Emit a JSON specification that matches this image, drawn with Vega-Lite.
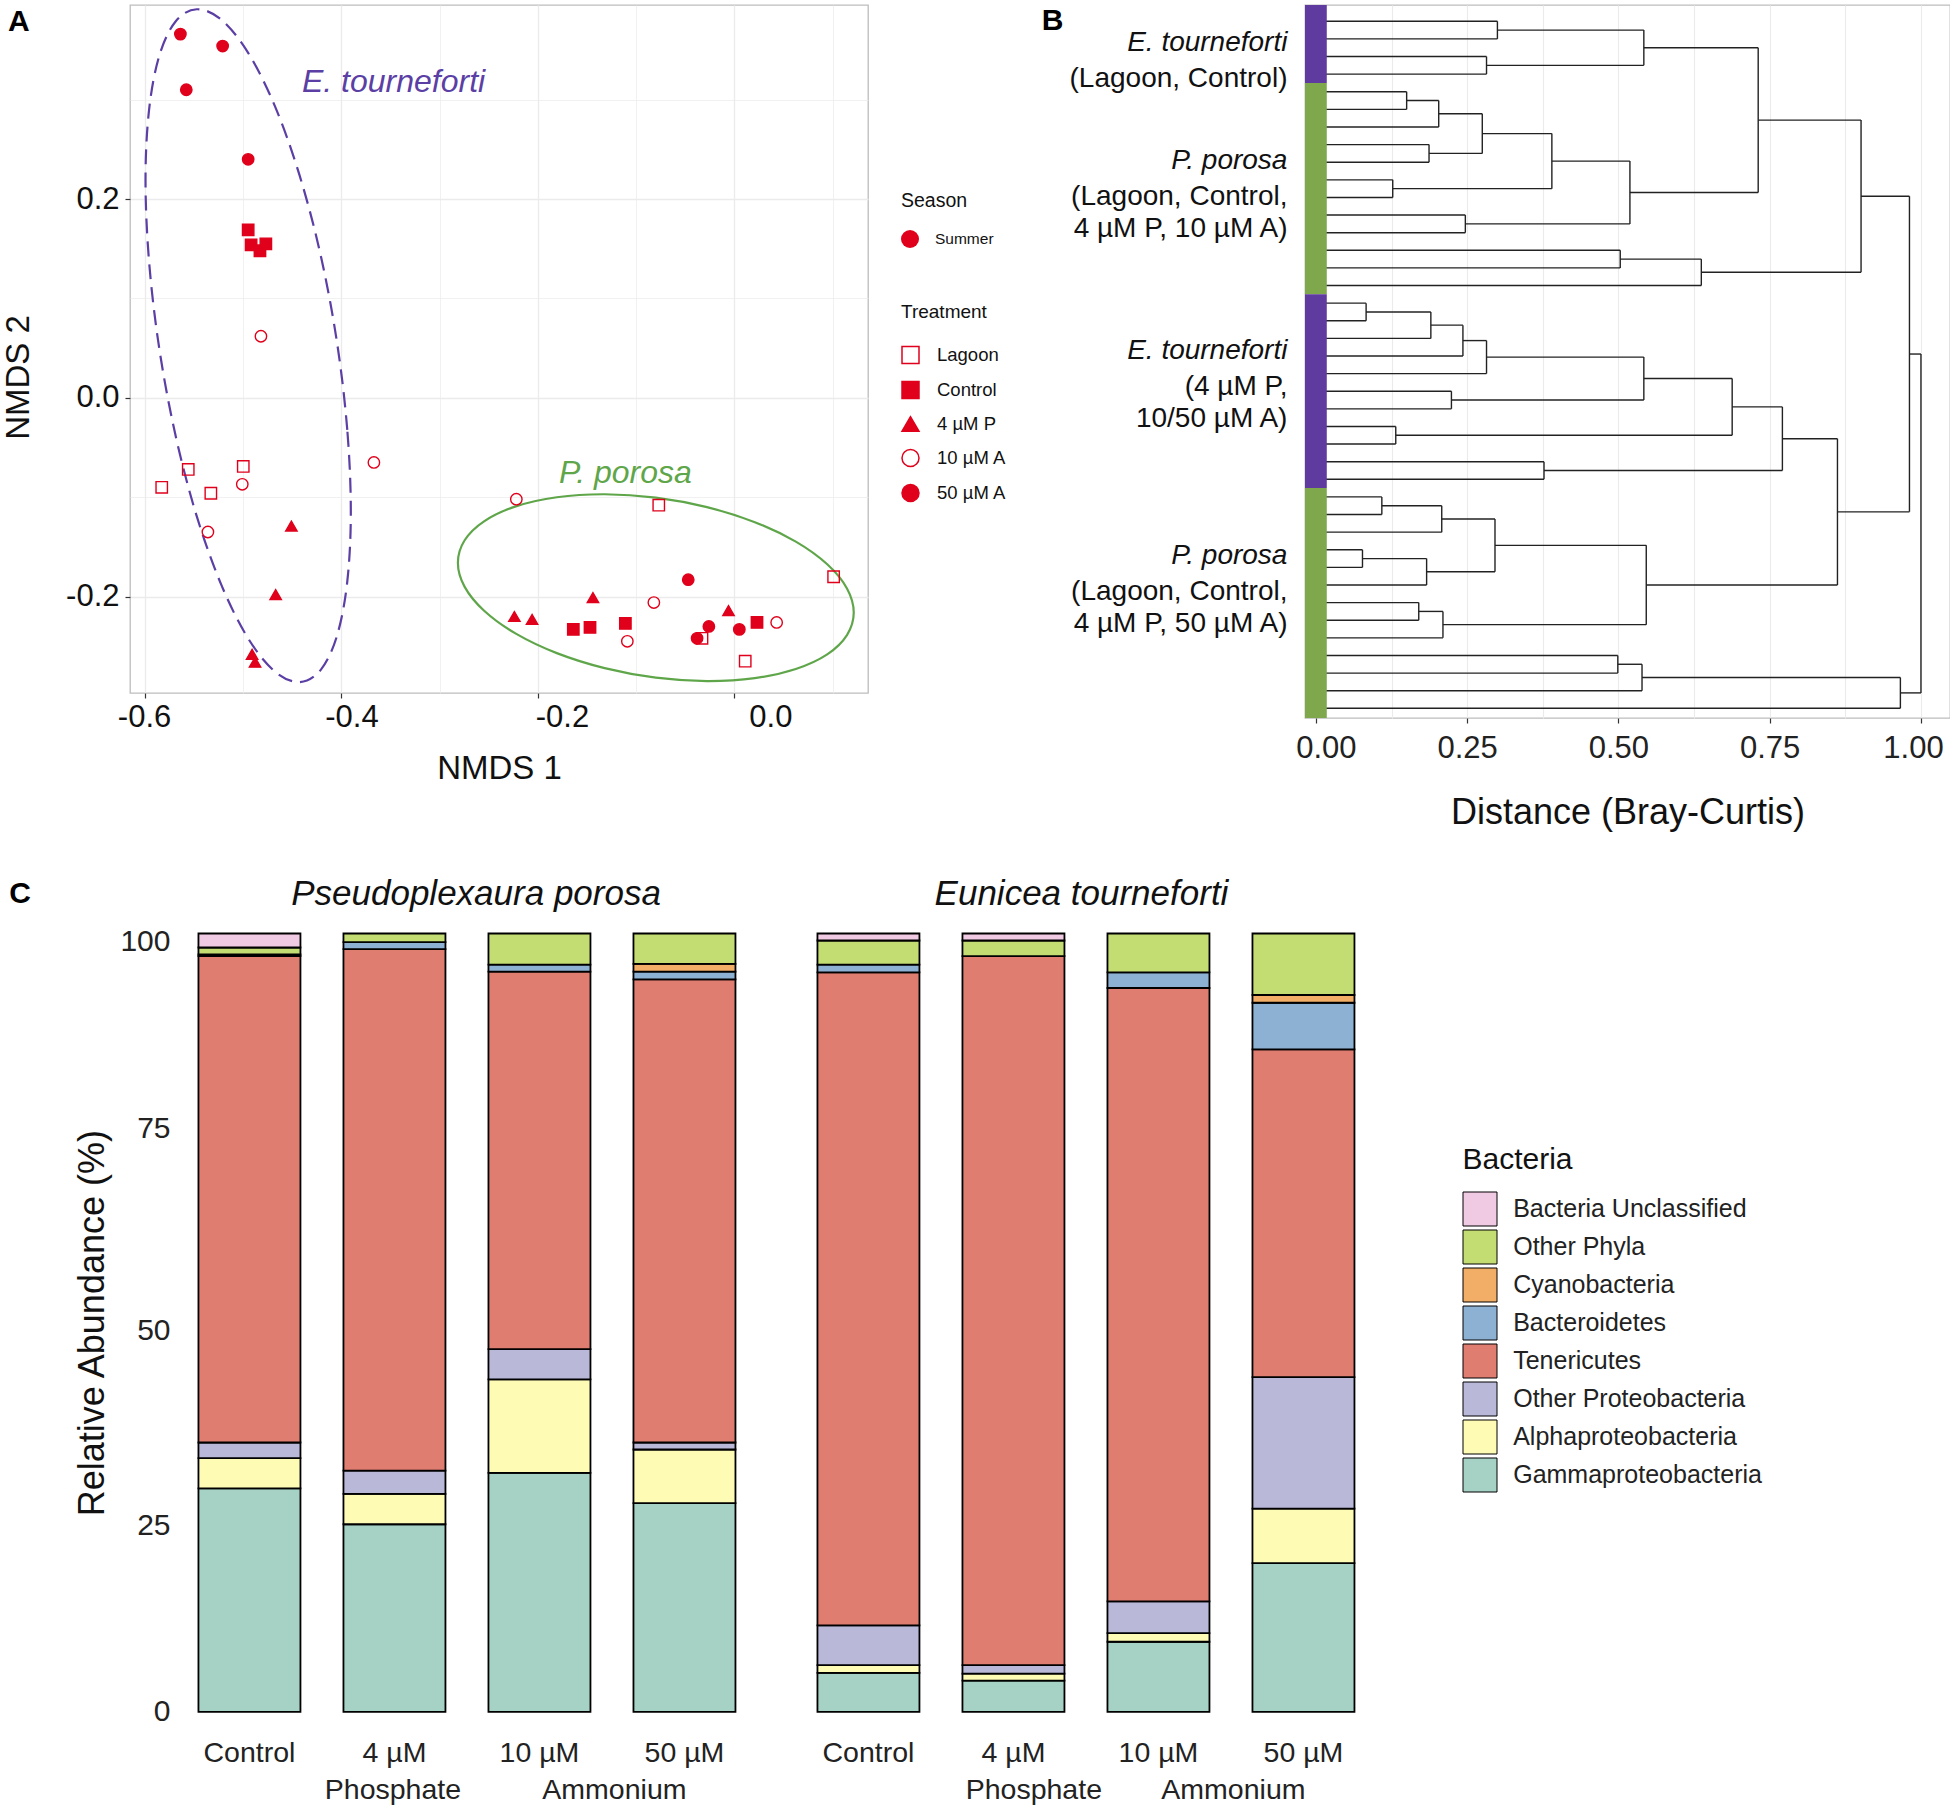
{
  "$schema": "https://vega.github.io/schema/vega-lite/v6.json",
  "background": "white",
  "padding": {"left": 2, "top": 4, "right": 0, "bottom": 0},
  "spacing": 44.5,
  "config": {
    "font": "Liberation Sans",
    "view": {"stroke": null},
    "axis": {"labelFont": "Liberation Sans", "titleFont": "Liberation Sans", "titleFontWeight": "normal", "labelFlush": false, "labelOverlap": false},
    "legend": {"labelFont": "Liberation Sans", "titleFont": "Liberation Sans", "titleFontWeight": "normal", "labelLimit": 400},
    "title": {"font": "Liberation Sans"}
  },
  "resolve": {
    "scale": {"color": "independent", "fill": "independent", "shape": "independent", "stroke": "independent"},
    "legend": {"color": "independent", "fill": "independent", "shape": "independent", "stroke": "independent"}
  },
  "vconcat": [
    {
      "bounds": "flush",
      "spacing": 437,
      "resolve": {
        "scale": {"color": "independent", "fill": "independent", "shape": "independent", "stroke": "independent"},
        "legend": {"color": "independent", "fill": "independent", "shape": "independent", "stroke": "independent"}
      },
      "hconcat": [
        {
          "width": 738,
          "height": 688,
          "view": {"stroke": "#BDBDBD", "strokeWidth": 1.3},
          "data": {"values": [
            {"Species": "E. tourneforti", "Treatment": "50 µM A", "Season": "Summer", "x": -0.564, "y": 0.366},
            {"Species": "E. tourneforti", "Treatment": "50 µM A", "Season": "Summer", "x": -0.521, "y": 0.354},
            {"Species": "E. tourneforti", "Treatment": "50 µM A", "Season": "Summer", "x": -0.558, "y": 0.310},
            {"Species": "E. tourneforti", "Treatment": "50 µM A", "Season": "Summer", "x": -0.495, "y": 0.240},
            {"Species": "E. tourneforti", "Treatment": "Control", "Season": "Summer", "x": -0.495, "y": 0.169},
            {"Species": "E. tourneforti", "Treatment": "Control", "Season": "Summer", "x": -0.492, "y": 0.154},
            {"Species": "E. tourneforti", "Treatment": "Control", "Season": "Summer", "x": -0.483, "y": 0.148},
            {"Species": "E. tourneforti", "Treatment": "Control", "Season": "Summer", "x": -0.477, "y": 0.155},
            {"Species": "E. tourneforti", "Treatment": "10 µM A", "Season": "Summer", "x": -0.482, "y": 0.062},
            {"Species": "E. tourneforti", "Treatment": "10 µM A", "Season": "Summer", "x": -0.367, "y": -0.065},
            {"Species": "E. tourneforti", "Treatment": "10 µM A", "Season": "Summer", "x": -0.501, "y": -0.087},
            {"Species": "E. tourneforti", "Treatment": "10 µM A", "Season": "Summer", "x": -0.536, "y": -0.135},
            {"Species": "E. tourneforti", "Treatment": "Lagoon", "Season": "Summer", "x": -0.583, "y": -0.090},
            {"Species": "E. tourneforti", "Treatment": "Lagoon", "Season": "Summer", "x": -0.556, "y": -0.072},
            {"Species": "E. tourneforti", "Treatment": "Lagoon", "Season": "Summer", "x": -0.533, "y": -0.096},
            {"Species": "E. tourneforti", "Treatment": "Lagoon", "Season": "Summer", "x": -0.500, "y": -0.069},
            {"Species": "E. tourneforti", "Treatment": "4 µM P", "Season": "Summer", "x": -0.451, "y": -0.129},
            {"Species": "E. tourneforti", "Treatment": "4 µM P", "Season": "Summer", "x": -0.467, "y": -0.198},
            {"Species": "E. tourneforti", "Treatment": "4 µM P", "Season": "Summer", "x": -0.491, "y": -0.258},
            {"Species": "E. tourneforti", "Treatment": "4 µM P", "Season": "Summer", "x": -0.488, "y": -0.266},
            {"Species": "P. porosa", "Treatment": "10 µM A", "Season": "Summer", "x": -0.222, "y": -0.102},
            {"Species": "P. porosa", "Treatment": "10 µM A", "Season": "Summer", "x": -0.082, "y": -0.206},
            {"Species": "P. porosa", "Treatment": "10 µM A", "Season": "Summer", "x": -0.109, "y": -0.245},
            {"Species": "P. porosa", "Treatment": "10 µM A", "Season": "Summer", "x": 0.043, "y": -0.226},
            {"Species": "P. porosa", "Treatment": "50 µM A", "Season": "Summer", "x": -0.047, "y": -0.183},
            {"Species": "P. porosa", "Treatment": "50 µM A", "Season": "Summer", "x": -0.026, "y": -0.230},
            {"Species": "P. porosa", "Treatment": "50 µM A", "Season": "Summer", "x": 0.005, "y": -0.233},
            {"Species": "P. porosa", "Treatment": "50 µM A", "Season": "Summer", "x": -0.038, "y": -0.242},
            {"Species": "P. porosa", "Treatment": "Lagoon", "Season": "Summer", "x": -0.077, "y": -0.108},
            {"Species": "P. porosa", "Treatment": "Lagoon", "Season": "Summer", "x": 0.101, "y": -0.180},
            {"Species": "P. porosa", "Treatment": "Lagoon", "Season": "Summer", "x": -0.033, "y": -0.242},
            {"Species": "P. porosa", "Treatment": "Lagoon", "Season": "Summer", "x": 0.011, "y": -0.265},
            {"Species": "P. porosa", "Treatment": "4 µM P", "Season": "Summer", "x": -0.144, "y": -0.201},
            {"Species": "P. porosa", "Treatment": "4 µM P", "Season": "Summer", "x": -0.224, "y": -0.220},
            {"Species": "P. porosa", "Treatment": "4 µM P", "Season": "Summer", "x": -0.206, "y": -0.223},
            {"Species": "P. porosa", "Treatment": "4 µM P", "Season": "Summer", "x": -0.006, "y": -0.214},
            {"Species": "P. porosa", "Treatment": "Control", "Season": "Summer", "x": -0.164, "y": -0.233},
            {"Species": "P. porosa", "Treatment": "Control", "Season": "Summer", "x": -0.147, "y": -0.231},
            {"Species": "P. porosa", "Treatment": "Control", "Season": "Summer", "x": -0.111, "y": -0.227},
            {"Species": "P. porosa", "Treatment": "Control", "Season": "Summer", "x": 0.023, "y": -0.226}
          ]},
          "encoding": {
            "x": {
              "field": "x", "type": "quantitative",
              "scale": {"domain": [-0.6153, 0.136], "nice": false, "zero": false},
              "axis": {
                "values": [-0.6, -0.5, -0.4, -0.3, -0.2, -0.1, 0, 0.1],
                "labelExpr": "abs(round(datum.value*10)) % 2 == 1 ? '' : (datum.value < -0.001 ? '-' + format(-datum.value, '.1f') : format(abs(datum.value), '.1f'))",
                "title": "NMDS 1", "titleFontSize": 33, "titleColor": "#111111", "titlePadding": 20,
                "labelFontSize": 31, "labelColor": "#111111", "labelPadding": 4,
                "labelOffset": {"condition": [
                  {"test": "datum.value > -0.05 && datum.value < 0.05", "value": 36},
                  {"test": "datum.value > -0.25 && datum.value < -0.15", "value": 24},
                  {"test": "datum.value > -0.45 && datum.value < -0.35", "value": 10}
                ], "value": -1},
                "domain": false,
                "tickSize": 5, "tickColor": "#333333", "tickWidth": 1.2,
                "tickOpacity": {"condition": {"test": "abs(round(datum.value*10)) % 2 == 1", "value": 0}, "value": 1},
                "grid": true, "gridColor": "#EBEBEB",
                "gridWidth": {"condition": {"test": "abs(round(datum.value*10)) % 2 == 1", "value": 0.7}, "value": 1.3}
              }
            },
            "y": {
              "field": "y", "type": "quantitative",
              "scale": {"domain": [-0.297, 0.3953], "nice": false, "zero": false},
              "axis": {
                "values": [-0.2, -0.1, 0, 0.1, 0.2, 0.3],
                "labelExpr": "abs(round(datum.value*10)) % 2 == 1 ? '' : (datum.value < -0.001 ? '-' + format(-datum.value, '.1f') : format(abs(datum.value), '.1f'))",
                "title": "NMDS 2", "titleFontSize": 33, "titleColor": "#111111", "titlePadding": 29.7, "titleY": 372,
                "labelFontSize": 31, "labelColor": "#111111", "labelPadding": 6,
                "domain": false,
                "tickSize": 5, "tickColor": "#333333", "tickWidth": 1.2,
                "tickOpacity": {"condition": {"test": "abs(round(datum.value*10)) % 2 == 1", "value": 0}, "value": 1},
                "grid": true, "gridColor": "#EBEBEB",
                "gridWidth": {"condition": {"test": "abs(round(datum.value*10)) % 2 == 1", "value": 0.7}, "value": 1.3}
              }
            }
          },
          "layer": [
            {
              "data": {"values": [
                {"t": 0, "x": -0.3905, "y": -0.1142}, {"t": 1, "x": -0.3941, "y": -0.0323},
                {"t": 2, "x": -0.4045, "y": 0.0554}, {"t": 3, "x": -0.4211, "y": 0.1430},
                {"t": 4, "x": -0.4428, "y": 0.2243}, {"t": 5, "x": -0.4680, "y": 0.2940},
                {"t": 6, "x": -0.4950, "y": 0.3471}, {"t": 7, "x": -0.5220, "y": 0.3802},
                {"t": 8, "x": -0.5473, "y": 0.3910}, {"t": 9, "x": -0.5689, "y": 0.3787},
                {"t": 10, "x": -0.5855, "y": 0.3442}, {"t": 11, "x": -0.5959, "y": 0.2898},
                {"t": 12, "x": -0.5995, "y": 0.2192}, {"t": 13, "x": -0.5959, "y": 0.1373},
                {"t": 14, "x": -0.5855, "y": 0.0496}, {"t": 15, "x": -0.5689, "y": -0.0380},
                {"t": 16, "x": -0.5473, "y": -0.1193}, {"t": 17, "x": -0.5220, "y": -0.1890},
                {"t": 18, "x": -0.4950, "y": -0.2421}, {"t": 19, "x": -0.4680, "y": -0.2752},
                {"t": 20, "x": -0.4428, "y": -0.2860}, {"t": 21, "x": -0.4211, "y": -0.2737},
                {"t": 22, "x": -0.4045, "y": -0.2392}, {"t": 23, "x": -0.3941, "y": -0.1848}
              ]},
              "mark": {"type": "line", "interpolate": "cardinal-closed", "color": "#5B3FA5", "strokeWidth": 2.2, "strokeDash": [15, 8]},
              "encoding": {"order": {"field": "t", "type": "quantitative"}}
            },
            {
              "data": {"values": [
                {"t": 0, "x": 0.1215, "y": -0.2161}, {"t": 1, "x": 0.1146, "y": -0.1918},
                {"t": 2, "x": 0.0945, "y": -0.1675}, {"t": 3, "x": 0.0625, "y": -0.1447},
                {"t": 4, "x": 0.0208, "y": -0.1251}, {"t": 5, "x": -0.0279, "y": -0.1100},
                {"t": 6, "x": -0.0800, "y": -0.1004}, {"t": 7, "x": -0.1321, "y": -0.0970},
                {"t": 8, "x": -0.1808, "y": -0.1000}, {"t": 9, "x": -0.2225, "y": -0.1092},
                {"t": 10, "x": -0.2545, "y": -0.1240}, {"t": 11, "x": -0.2746, "y": -0.1433},
                {"t": 12, "x": -0.2815, "y": -0.1659}, {"t": 13, "x": -0.2746, "y": -0.1902},
                {"t": 14, "x": -0.2545, "y": -0.2145}, {"t": 15, "x": -0.2225, "y": -0.2373},
                {"t": 16, "x": -0.1808, "y": -0.2569}, {"t": 17, "x": -0.1321, "y": -0.2720},
                {"t": 18, "x": -0.0800, "y": -0.2816}, {"t": 19, "x": -0.0279, "y": -0.2850},
                {"t": 20, "x": 0.0208, "y": -0.2820}, {"t": 21, "x": 0.0625, "y": -0.2728},
                {"t": 22, "x": 0.0945, "y": -0.2581}, {"t": 23, "x": 0.1146, "y": -0.2387}
              ]},
              "mark": {"type": "line", "interpolate": "cardinal-closed", "color": "#5FA64A", "strokeWidth": 2.2},
              "encoding": {"order": {"field": "t", "type": "quantitative"}}
            },
            {
              "data": {"values": [{"label": "E. tourneforti", "x": -0.347, "y": 0.318}]},
              "mark": {"type": "text", "fontSize": 32, "fontStyle": "italic", "color": "#5B3FA5", "align": "center", "baseline": "middle"},
              "encoding": {"text": {"field": "label"}}
            },
            {
              "data": {"values": [{"label": "P. porosa", "x": -0.111, "y": -0.0755}]},
              "mark": {"type": "text", "fontSize": 32, "fontStyle": "italic", "color": "#5FA64A", "align": "center", "baseline": "middle"},
              "encoding": {"text": {"field": "label"}}
            },
            {
              "mark": {"type": "point", "filled": true, "size": 0},
              "encoding": {
                "color": {
                  "field": "Season", "type": "nominal",
                  "scale": {"domain": ["Summer"], "range": ["#E0001B"]},
                  "legend": {"title": "Season", "orient": "none", "legendX": 771, "legendY": 187, "padding": 0,
                    "titleFontSize": 19.5, "titleColor": "#111111", "titlePadding": 18.5,
                    "labelFontSize": 15.5, "labelColor": "#111111", "labelOffset": 16,
                    "symbolType": "circle", "symbolSize": 324, "symbolStrokeWidth": 0, "symbolOpacity": 1}
                }
              }
            },
            {
              "mark": {"type": "point", "filled": true, "size": 130, "strokeWidth": 1.4, "opacity": 1},
              "encoding": {
                "shape": {
                  "field": "Treatment", "type": "nominal",
                  "scale": {"domain": ["Lagoon", "Control", "4 µM P", "10 µM A", "50 µM A"], "range": ["square", "square", "triangle-up", "circle", "circle"]},
                  "legend": {"title": "Treatment", "orient": "none", "legendX": 771, "legendY": 297.5, "padding": 0,
                    "titleFontSize": 19, "titleColor": "#111111", "titlePadding": 24,
                    "labelFontSize": 18.5, "labelColor": "#111111", "labelOffset": 17, "rowPadding": 12,
                    "symbolSize": 289, "symbolStrokeWidth": 1.5}
                },
                "fill": {
                  "field": "Treatment", "type": "nominal",
                  "scale": {"domain": ["Lagoon", "Control", "4 µM P", "10 µM A", "50 µM A"], "range": ["transparent", "#E0001B", "#E0001B", "transparent", "#E0001B"]},
                  "legend": {"title": "Treatment", "orient": "none", "legendX": 771, "legendY": 297.5, "padding": 0,
                    "titleFontSize": 19, "titleColor": "#111111", "titlePadding": 24,
                    "labelFontSize": 18.5, "labelColor": "#111111", "labelOffset": 17, "rowPadding": 12,
                    "symbolSize": 289, "symbolStrokeWidth": 1.5}
                },
                "stroke": {
                  "field": "Treatment", "type": "nominal",
                  "scale": {"domain": ["Lagoon", "Control", "4 µM P", "10 µM A", "50 µM A"], "range": ["#E0001B", "#E0001B", "#E0001B", "#E0001B", "#E0001B"]},
                  "legend": {"title": "Treatment", "orient": "none", "legendX": 771, "legendY": 297.5, "padding": 0,
                    "titleFontSize": 19, "titleColor": "#111111", "titlePadding": 24,
                    "labelFontSize": 18.5, "labelColor": "#111111", "labelOffset": 17, "rowPadding": 12,
                    "symbolSize": 289, "symbolStrokeWidth": 1.5}
                }
              }
            }
          ]
        },
        {
          "width": 645,
          "height": 713,
          "view": {"stroke": "#BDBDBD", "strokeWidth": 1.3},
          "layer": [
            {
              "data": {"values": [
                {"d1": 0, "d2": 0.300, "p1": 1, "p2": 1}, {"d1": 0, "d2": 0.300, "p1": 2, "p2": 2}, {"d1": 0.300, "d2": 0.300, "p1": 1, "p2": 2},
                {"d1": 0, "d2": 0.282, "p1": 3, "p2": 3}, {"d1": 0, "d2": 0.282, "p1": 4, "p2": 4}, {"d1": 0.282, "d2": 0.282, "p1": 3, "p2": 4},
                {"d1": 0.300, "d2": 0.542, "p1": 1.5, "p2": 1.5}, {"d1": 0.282, "d2": 0.542, "p1": 3.5, "p2": 3.5}, {"d1": 0.542, "d2": 0.542, "p1": 1.5, "p2": 3.5},
                {"d1": 0, "d2": 0.150, "p1": 5, "p2": 5}, {"d1": 0, "d2": 0.150, "p1": 6, "p2": 6}, {"d1": 0.150, "d2": 0.150, "p1": 5, "p2": 6},
                {"d1": 0.150, "d2": 0.203, "p1": 5.5, "p2": 5.5}, {"d1": 0, "d2": 0.203, "p1": 7, "p2": 7}, {"d1": 0.203, "d2": 0.203, "p1": 5.5, "p2": 7},
                {"d1": 0, "d2": 0.187, "p1": 8, "p2": 8}, {"d1": 0, "d2": 0.187, "p1": 9, "p2": 9}, {"d1": 0.187, "d2": 0.187, "p1": 8, "p2": 9},
                {"d1": 0.203, "d2": 0.275, "p1": 6.25, "p2": 6.25}, {"d1": 0.187, "d2": 0.275, "p1": 8.5, "p2": 8.5}, {"d1": 0.275, "d2": 0.275, "p1": 6.25, "p2": 8.5},
                {"d1": 0, "d2": 0.127, "p1": 10, "p2": 10}, {"d1": 0, "d2": 0.127, "p1": 11, "p2": 11}, {"d1": 0.127, "d2": 0.127, "p1": 10, "p2": 11},
                {"d1": 0.275, "d2": 0.390, "p1": 7.375, "p2": 7.375}, {"d1": 0.127, "d2": 0.390, "p1": 10.5, "p2": 10.5}, {"d1": 0.390, "d2": 0.390, "p1": 7.375, "p2": 10.5},
                {"d1": 0, "d2": 0.247, "p1": 12, "p2": 12}, {"d1": 0, "d2": 0.247, "p1": 13, "p2": 13}, {"d1": 0.247, "d2": 0.247, "p1": 12, "p2": 13},
                {"d1": 0.390, "d2": 0.519, "p1": 8.9375, "p2": 8.9375}, {"d1": 0.247, "d2": 0.519, "p1": 12.5, "p2": 12.5}, {"d1": 0.519, "d2": 0.519, "p1": 8.9375, "p2": 12.5},
                {"d1": 0.542, "d2": 0.731, "p1": 2.5, "p2": 2.5}, {"d1": 0.519, "d2": 0.731, "p1": 10.719, "p2": 10.719}, {"d1": 0.731, "d2": 0.731, "p1": 2.5, "p2": 10.719},
                {"d1": 0, "d2": 0.503, "p1": 14, "p2": 14}, {"d1": 0, "d2": 0.503, "p1": 15, "p2": 15}, {"d1": 0.503, "d2": 0.503, "p1": 14, "p2": 15},
                {"d1": 0.503, "d2": 0.637, "p1": 14.5, "p2": 14.5}, {"d1": 0, "d2": 0.637, "p1": 16, "p2": 16}, {"d1": 0.637, "d2": 0.637, "p1": 14.5, "p2": 16},
                {"d1": 0.731, "d2": 0.901, "p1": 6.609, "p2": 6.609}, {"d1": 0.637, "d2": 0.901, "p1": 15.25, "p2": 15.25}, {"d1": 0.901, "d2": 0.901, "p1": 6.609, "p2": 15.25},
                {"d1": 0, "d2": 0.083, "p1": 17, "p2": 17}, {"d1": 0, "d2": 0.083, "p1": 18, "p2": 18}, {"d1": 0.083, "d2": 0.083, "p1": 17, "p2": 18},
                {"d1": 0.083, "d2": 0.190, "p1": 17.5, "p2": 17.5}, {"d1": 0, "d2": 0.190, "p1": 19, "p2": 19}, {"d1": 0.190, "d2": 0.190, "p1": 17.5, "p2": 19},
                {"d1": 0.190, "d2": 0.243, "p1": 18.25, "p2": 18.25}, {"d1": 0, "d2": 0.243, "p1": 20, "p2": 20}, {"d1": 0.243, "d2": 0.243, "p1": 18.25, "p2": 20},
                {"d1": 0.243, "d2": 0.282, "p1": 19.125, "p2": 19.125}, {"d1": 0, "d2": 0.282, "p1": 21, "p2": 21}, {"d1": 0.282, "d2": 0.282, "p1": 19.125, "p2": 21},
                {"d1": 0, "d2": 0.224, "p1": 22, "p2": 22}, {"d1": 0, "d2": 0.224, "p1": 23, "p2": 23}, {"d1": 0.224, "d2": 0.224, "p1": 22, "p2": 23},
                {"d1": 0.282, "d2": 0.542, "p1": 20.0625, "p2": 20.0625}, {"d1": 0.224, "d2": 0.542, "p1": 22.5, "p2": 22.5}, {"d1": 0.542, "d2": 0.542, "p1": 20.0625, "p2": 22.5},
                {"d1": 0, "d2": 0.132, "p1": 24, "p2": 24}, {"d1": 0, "d2": 0.132, "p1": 25, "p2": 25}, {"d1": 0.132, "d2": 0.132, "p1": 24, "p2": 25},
                {"d1": 0.542, "d2": 0.688, "p1": 21.281, "p2": 21.281}, {"d1": 0.132, "d2": 0.688, "p1": 24.5, "p2": 24.5}, {"d1": 0.688, "d2": 0.688, "p1": 21.281, "p2": 24.5},
                {"d1": 0, "d2": 0.377, "p1": 26, "p2": 26}, {"d1": 0, "d2": 0.377, "p1": 27, "p2": 27}, {"d1": 0.377, "d2": 0.377, "p1": 26, "p2": 27},
                {"d1": 0.688, "d2": 0.771, "p1": 22.891, "p2": 22.891}, {"d1": 0.377, "d2": 0.771, "p1": 26.5, "p2": 26.5}, {"d1": 0.771, "d2": 0.771, "p1": 22.891, "p2": 26.5},
                {"d1": 0, "d2": 0.109, "p1": 28, "p2": 28}, {"d1": 0, "d2": 0.109, "p1": 29, "p2": 29}, {"d1": 0.109, "d2": 0.109, "p1": 28, "p2": 29},
                {"d1": 0.109, "d2": 0.208, "p1": 28.5, "p2": 28.5}, {"d1": 0, "d2": 0.208, "p1": 30, "p2": 30}, {"d1": 0.208, "d2": 0.208, "p1": 28.5, "p2": 30},
                {"d1": 0, "d2": 0.077, "p1": 31, "p2": 31}, {"d1": 0, "d2": 0.077, "p1": 32, "p2": 32}, {"d1": 0.077, "d2": 0.077, "p1": 31, "p2": 32},
                {"d1": 0.077, "d2": 0.183, "p1": 31.5, "p2": 31.5}, {"d1": 0, "d2": 0.183, "p1": 33, "p2": 33}, {"d1": 0.183, "d2": 0.183, "p1": 31.5, "p2": 33},
                {"d1": 0.208, "d2": 0.296, "p1": 29.25, "p2": 29.25}, {"d1": 0.183, "d2": 0.296, "p1": 32.25, "p2": 32.25}, {"d1": 0.296, "d2": 0.296, "p1": 29.25, "p2": 32.25},
                {"d1": 0, "d2": 0.170, "p1": 34, "p2": 34}, {"d1": 0, "d2": 0.170, "p1": 35, "p2": 35}, {"d1": 0.170, "d2": 0.170, "p1": 34, "p2": 35},
                {"d1": 0.170, "d2": 0.210, "p1": 34.5, "p2": 34.5}, {"d1": 0, "d2": 0.210, "p1": 36, "p2": 36}, {"d1": 0.210, "d2": 0.210, "p1": 34.5, "p2": 36},
                {"d1": 0.296, "d2": 0.546, "p1": 30.75, "p2": 30.75}, {"d1": 0.210, "d2": 0.546, "p1": 35.25, "p2": 35.25}, {"d1": 0.546, "d2": 0.546, "p1": 30.75, "p2": 35.25},
                {"d1": 0.771, "d2": 0.862, "p1": 24.695, "p2": 24.695}, {"d1": 0.546, "d2": 0.862, "p1": 33, "p2": 33}, {"d1": 0.862, "d2": 0.862, "p1": 24.695, "p2": 33},
                {"d1": 0.901, "d2": 0.981, "p1": 10.93, "p2": 10.93}, {"d1": 0.862, "d2": 0.981, "p1": 28.848, "p2": 28.848}, {"d1": 0.981, "d2": 0.981, "p1": 10.93, "p2": 28.848},
                {"d1": 0, "d2": 0.499, "p1": 37, "p2": 37}, {"d1": 0, "d2": 0.499, "p1": 38, "p2": 38}, {"d1": 0.499, "d2": 0.499, "p1": 37, "p2": 38},
                {"d1": 0.499, "d2": 0.539, "p1": 37.5, "p2": 37.5}, {"d1": 0, "d2": 0.539, "p1": 39, "p2": 39}, {"d1": 0.539, "d2": 0.539, "p1": 37.5, "p2": 39},
                {"d1": 0.539, "d2": 0.966, "p1": 38.25, "p2": 38.25}, {"d1": 0, "d2": 0.966, "p1": 40, "p2": 40}, {"d1": 0.966, "d2": 0.966, "p1": 38.25, "p2": 40},
                {"d1": 0.981, "d2": 1.0, "p1": 19.889, "p2": 19.889}, {"d1": 0.966, "d2": 1.0, "p1": 39.125, "p2": 39.125}, {"d1": 1.0, "d2": 1.0, "p1": 19.889, "p2": 39.125}
              ]},
              "mark": {"type": "rule", "color": "#222222", "strokeWidth": 1.4},
              "encoding": {
                "x": {
                  "field": "d1", "type": "quantitative",
                  "scale": {"domain": [-0.018, 1.048], "nice": false, "zero": false},
                  "axis": {
                    "values": [0, 0.125, 0.25, 0.375, 0.5, 0.625, 0.75, 0.875, 1],
                    "labelExpr": "round(datum.value*8) % 2 == 1 ? '' : format(datum.value, '.2f')",
                    "title": "Distance (Bray-Curtis)", "titleFontSize": 36, "titleColor": "#111111", "titlePadding": 32,
                    "labelFontSize": 31, "labelColor": "#222222", "labelPadding": 10,
                    "labelOffset": {"condition": [
                      {"test": "datum.value == 0", "value": 10},
                      {"test": "datum.value == 1", "value": -8}
                    ], "value": 0},
                    "domain": false,
                    "tickSize": 5, "tickColor": "#333333", "tickWidth": 1.2,
                    "tickOpacity": {"condition": {"test": "round(datum.value*8) % 2 == 1", "value": 0}, "value": 1},
                    "grid": true, "gridColor": "#EBEBEB", "gridWidth": 1.1
                  }
                },
                "x2": {"field": "d2"},
                "y": {"field": "p1", "type": "quantitative", "scale": {"domain": [0.075, 40.55], "reverse": true, "nice": false, "zero": false}, "axis": null},
                "y2": {"field": "p2"}
              }
            },
            {
              "data": {"values": [
                {"group": "E. tourneforti", "from": 0.075, "to": 4.5},
                {"group": "P. porosa", "from": 4.5, "to": 16.5},
                {"group": "E. tourneforti", "from": 16.5, "to": 27.5},
                {"group": "P. porosa", "from": 27.5, "to": 40.55}
              ]},
              "mark": {"type": "rect"},
              "encoding": {
                "x": {"datum": -0.018},
                "x2": {"datum": 0.018},
                "y": {"field": "from", "type": "quantitative"},
                "y2": {"field": "to"},
                "color": {"field": "group", "type": "nominal", "scale": {"domain": ["E. tourneforti", "P. porosa"], "range": ["#5F3A9F", "#7FA74B"]}, "legend": null}
              }
            },
            {
              "data": {"values": [
                {"label": "E. tourneforti", "pos": 2.25},
                {"label": "P. porosa", "pos": 8.95},
                {"label": "E. tourneforti", "pos": 19.74},
                {"label": "P. porosa", "pos": 31.35}
              ]},
              "mark": {"type": "text", "align": "right", "baseline": "middle", "fontSize": 28, "fontStyle": "italic", "color": "#111111"},
              "encoding": {"x": {"datum": -0.047}, "y": {"field": "pos", "type": "quantitative"}, "text": {"field": "label"}}
            },
            {
              "data": {"values": [
                {"label": "(Lagoon, Control)", "pos": 4.3},
                {"label": "(Lagoon, Control,", "pos": 10.97},
                {"label": "4 µM P, 10 µM A)", "pos": 12.79},
                {"label": "(4 µM P,", "pos": 21.76},
                {"label": "10/50 µM A)", "pos": 23.59},
                {"label": "(Lagoon, Control,", "pos": 33.39},
                {"label": "4 µM P, 50 µM A)", "pos": 35.2}
              ]},
              "mark": {"type": "text", "align": "right", "baseline": "middle", "fontSize": 28, "color": "#111111"},
              "encoding": {"x": {"datum": -0.047}, "y": {"field": "pos", "type": "quantitative"}, "text": {"field": "label"}}
            },
            {
              "data": {"values": [{"label": "B"}]},
              "mark": {"type": "text", "fontSize": 30, "fontWeight": "bold", "color": "black", "align": "center", "baseline": "middle"},
              "encoding": {"x": {"datum": -0.435}, "y": {"datum": 1.0}, "text": {"field": "label"}}
            },
            {
              "data": {"values": [{"label": "A"}]},
              "mark": {"type": "text", "fontSize": 30, "fontWeight": "bold", "color": "black", "align": "center", "baseline": "middle"},
              "encoding": {"x": {"datum": -2.1436}, "y": {"datum": 1.06}, "text": {"field": "label"}}
            }
          ]
        }
      ]
    },
    {
      "bounds": "flush",
      "spacing": 0,
      "resolve": {"scale": {"color": "independent"}, "legend": {"color": "independent"}},
      "hconcat": [
        {
          "width": 618.5,
          "height": 778.3,
          "title": {"text": "\u200b", "anchor": "start", "frame": "group", "dx": -127.3, "fontSize": 1, "offset": 0},
          "encoding": {
            "x": {
              "field": "Treatment", "type": "nominal",
              "sort": ["Control", "4 µM Phosphate", "10 µM Ammonium", "50 µM Ammonium"],
              "scale": {"paddingInner": 0.2966, "paddingOuter": 0.281, "align": 0.84},
              "axis": {
                "title": null, "labelAngle": 0, "ticks": false, "domain": false, "grid": false,
                "labelExpr": "datum.label == '4 µM Phosphate' ? '4 µM' : datum.label == '10 µM Ammonium' ? '10 µM' : datum.label == '50 µM Ammonium' ? '50 µM' : datum.label",
                "labelFontSize": 28.5, "labelColor": "#222222", "labelPadding": 27, "labelLimit": 400
              }
            }
          },
          "layer": [
            {
              "data": {"values": [
                {"Treatment": "Control", "Bacteria": "Gammaproteobacteria", "Rank": 1, "Abundance": 28.7},
                {"Treatment": "Control", "Bacteria": "Alphaproteobacteria", "Rank": 2, "Abundance": 3.9},
                {"Treatment": "Control", "Bacteria": "Other Proteobacteria", "Rank": 3, "Abundance": 2.0},
                {"Treatment": "Control", "Bacteria": "Tenericutes", "Rank": 4, "Abundance": 62.5},
                {"Treatment": "Control", "Bacteria": "Bacteroidetes", "Rank": 5, "Abundance": 0.2},
                {"Treatment": "Control", "Bacteria": "Other Phyla", "Rank": 7, "Abundance": 0.9},
                {"Treatment": "Control", "Bacteria": "Bacteria Unclassified", "Rank": 8, "Abundance": 1.8},
                {"Treatment": "4 µM Phosphate", "Bacteria": "Gammaproteobacteria", "Rank": 1, "Abundance": 24.1},
                {"Treatment": "4 µM Phosphate", "Bacteria": "Alphaproteobacteria", "Rank": 2, "Abundance": 3.9},
                {"Treatment": "4 µM Phosphate", "Bacteria": "Other Proteobacteria", "Rank": 3, "Abundance": 3.0},
                {"Treatment": "4 µM Phosphate", "Bacteria": "Tenericutes", "Rank": 4, "Abundance": 67.0},
                {"Treatment": "4 µM Phosphate", "Bacteria": "Bacteroidetes", "Rank": 5, "Abundance": 0.9},
                {"Treatment": "4 µM Phosphate", "Bacteria": "Other Phyla", "Rank": 7, "Abundance": 1.1},
                {"Treatment": "10 µM Ammonium", "Bacteria": "Gammaproteobacteria", "Rank": 1, "Abundance": 30.7},
                {"Treatment": "10 µM Ammonium", "Bacteria": "Alphaproteobacteria", "Rank": 2, "Abundance": 12.0},
                {"Treatment": "10 µM Ammonium", "Bacteria": "Other Proteobacteria", "Rank": 3, "Abundance": 3.9},
                {"Treatment": "10 µM Ammonium", "Bacteria": "Tenericutes", "Rank": 4, "Abundance": 48.5},
                {"Treatment": "10 µM Ammonium", "Bacteria": "Bacteroidetes", "Rank": 5, "Abundance": 0.9},
                {"Treatment": "10 µM Ammonium", "Bacteria": "Other Phyla", "Rank": 7, "Abundance": 4.0},
                {"Treatment": "50 µM Ammonium", "Bacteria": "Gammaproteobacteria", "Rank": 1, "Abundance": 26.8},
                {"Treatment": "50 µM Ammonium", "Bacteria": "Alphaproteobacteria", "Rank": 2, "Abundance": 6.9},
                {"Treatment": "50 µM Ammonium", "Bacteria": "Other Proteobacteria", "Rank": 3, "Abundance": 0.9},
                {"Treatment": "50 µM Ammonium", "Bacteria": "Tenericutes", "Rank": 4, "Abundance": 59.5},
                {"Treatment": "50 µM Ammonium", "Bacteria": "Bacteroidetes", "Rank": 5, "Abundance": 1.0},
                {"Treatment": "50 µM Ammonium", "Bacteria": "Cyanobacteria", "Rank": 6, "Abundance": 1.0},
                {"Treatment": "50 µM Ammonium", "Bacteria": "Other Phyla", "Rank": 7, "Abundance": 3.9}
              ]},
              "mark": {"type": "bar", "stroke": "black", "strokeWidth": 1.8},
              "encoding": {
                "y": {
                  "field": "Abundance", "type": "quantitative", "stack": "zero",
                  "scale": {"domain": [0, 100], "nice": false},
                  "axis": {
                    "values": [0, 25, 50, 75, 100], "title": "Relative Abundance (%)", "titleFontSize": 36, "titleColor": "#111111", "titlePadding": 8,
                    "offset": -50, "grid": false, "ticks": false, "domain": false,
                    "labelFontSize": 30, "labelColor": "#222222", "labelPadding": 10,
                    "labelOffset": {"condition": {"test": "datum.value == 100 || datum.value == 50 || datum.value == 25", "value": 8}, "value": 0}
                  }
                },
                "color": {
                  "field": "Bacteria", "type": "nominal",
                  "scale": {
                    "domain": ["Bacteria Unclassified", "Other Phyla", "Cyanobacteria", "Bacteroidetes", "Tenericutes", "Other Proteobacteria", "Alphaproteobacteria", "Gammaproteobacteria"],
                    "range": ["#F0CAE3", "#C4DD72", "#F2AE66", "#8DB1D3", "#E07D71", "#BAB8D8", "#FEFBB4", "#A6D2C6"]
                  },
                  "legend": null
                },
                "order": {"field": "Rank", "type": "quantitative"}
              }
            },
            {
              "data": {"values": [{"Treatment": "4 µM Phosphate", "label": "Phosphate"}]},
              "mark": {"type": "text", "fontSize": 28.5, "color": "#222222", "baseline": "middle", "align": "center"},
              "encoding": {"x": {"field": "Treatment", "type": "nominal", "bandPosition": 0.485}, "y": {"datum": -10.02}, "text": {"field": "label"}}
            },
            {
              "data": {"values": [{"Treatment": "10 µM Ammonium", "label": "Ammonium"}]},
              "mark": {"type": "text", "fontSize": 28.5, "color": "#222222", "baseline": "middle", "align": "center"},
              "encoding": {"x": {"field": "Treatment", "type": "nominal", "bandPosition": 1.235}, "y": {"datum": -10.02}, "text": {"field": "label"}}
            },
            {
              "data": {"values": [{"Treatment": "4 µM Phosphate", "label": "Pseudoplexaura porosa"}]},
              "mark": {"type": "text", "fontSize": 35, "fontStyle": "italic", "color": "#111111", "baseline": "middle", "align": "center"},
              "encoding": {"x": {"field": "Treatment", "type": "nominal", "bandPosition": 1.30}, "y": {"datum": 105.1}, "text": {"field": "label"}}
            },
            {
              "data": {"values": [{"Treatment": "Control", "label": "C"}]},
              "mark": {"type": "text", "fontSize": 30, "fontWeight": "bold", "color": "black", "baseline": "middle", "align": "center"},
              "encoding": {"x": {"field": "Treatment", "type": "nominal", "bandPosition": -1.75}, "y": {"datum": 105.1}, "text": {"field": "label"}}
            }
          ]
        },
        {
          "width": 618.5,
          "height": 778.3,
          "encoding": {
            "x": {
              "field": "Treatment", "type": "nominal",
              "sort": ["Control", "4 µM Phosphate", "10 µM Ammonium", "50 µM Ammonium"],
              "scale": {"paddingInner": 0.2966, "paddingOuter": 0.281, "align": 0.84},
              "axis": {
                "title": null, "labelAngle": 0, "ticks": false, "domain": false, "grid": false,
                "labelExpr": "datum.label == '4 µM Phosphate' ? '4 µM' : datum.label == '10 µM Ammonium' ? '10 µM' : datum.label == '50 µM Ammonium' ? '50 µM' : datum.label",
                "labelFontSize": 28.5, "labelColor": "#222222", "labelPadding": 27, "labelLimit": 400
              }
            }
          },
          "layer": [
            {
              "data": {"values": [
                {"Treatment": "Control", "Bacteria": "Gammaproteobacteria", "Rank": 1, "Abundance": 5.0},
                {"Treatment": "Control", "Bacteria": "Alphaproteobacteria", "Rank": 2, "Abundance": 1.0},
                {"Treatment": "Control", "Bacteria": "Other Proteobacteria", "Rank": 3, "Abundance": 5.1},
                {"Treatment": "Control", "Bacteria": "Tenericutes", "Rank": 4, "Abundance": 83.9},
                {"Treatment": "Control", "Bacteria": "Bacteroidetes", "Rank": 5, "Abundance": 1.0},
                {"Treatment": "Control", "Bacteria": "Other Phyla", "Rank": 7, "Abundance": 3.1},
                {"Treatment": "Control", "Bacteria": "Bacteria Unclassified", "Rank": 8, "Abundance": 0.9},
                {"Treatment": "4 µM Phosphate", "Bacteria": "Gammaproteobacteria", "Rank": 1, "Abundance": 4.0},
                {"Treatment": "4 µM Phosphate", "Bacteria": "Alphaproteobacteria", "Rank": 2, "Abundance": 0.9},
                {"Treatment": "4 µM Phosphate", "Bacteria": "Other Proteobacteria", "Rank": 3, "Abundance": 1.1},
                {"Treatment": "4 µM Phosphate", "Bacteria": "Tenericutes", "Rank": 4, "Abundance": 91.1},
                {"Treatment": "4 µM Phosphate", "Bacteria": "Other Phyla", "Rank": 7, "Abundance": 2.0},
                {"Treatment": "4 µM Phosphate", "Bacteria": "Bacteria Unclassified", "Rank": 8, "Abundance": 0.9},
                {"Treatment": "10 µM Ammonium", "Bacteria": "Gammaproteobacteria", "Rank": 1, "Abundance": 9.0},
                {"Treatment": "10 µM Ammonium", "Bacteria": "Alphaproteobacteria", "Rank": 2, "Abundance": 1.1},
                {"Treatment": "10 µM Ammonium", "Bacteria": "Other Proteobacteria", "Rank": 3, "Abundance": 4.1},
                {"Treatment": "10 µM Ammonium", "Bacteria": "Tenericutes", "Rank": 4, "Abundance": 78.8},
                {"Treatment": "10 µM Ammonium", "Bacteria": "Bacteroidetes", "Rank": 5, "Abundance": 2.0},
                {"Treatment": "10 µM Ammonium", "Bacteria": "Other Phyla", "Rank": 7, "Abundance": 5.0},
                {"Treatment": "50 µM Ammonium", "Bacteria": "Gammaproteobacteria", "Rank": 1, "Abundance": 19.1},
                {"Treatment": "50 µM Ammonium", "Bacteria": "Alphaproteobacteria", "Rank": 2, "Abundance": 7.0},
                {"Treatment": "50 µM Ammonium", "Bacteria": "Other Proteobacteria", "Rank": 3, "Abundance": 16.9},
                {"Treatment": "50 µM Ammonium", "Bacteria": "Tenericutes", "Rank": 4, "Abundance": 42.1},
                {"Treatment": "50 µM Ammonium", "Bacteria": "Bacteroidetes", "Rank": 5, "Abundance": 6.0},
                {"Treatment": "50 µM Ammonium", "Bacteria": "Cyanobacteria", "Rank": 6, "Abundance": 1.0},
                {"Treatment": "50 µM Ammonium", "Bacteria": "Other Phyla", "Rank": 7, "Abundance": 7.9}
              ]},
              "mark": {"type": "bar", "stroke": "black", "strokeWidth": 1.8},
              "encoding": {
                "y": {
                  "field": "Abundance", "type": "quantitative", "stack": "zero",
                  "scale": {"domain": [0, 100], "nice": false},
                  "axis": null
                },
                "color": {
                  "field": "Bacteria", "type": "nominal",
                  "scale": {
                    "domain": ["Bacteria Unclassified", "Other Phyla", "Cyanobacteria", "Bacteroidetes", "Tenericutes", "Other Proteobacteria", "Alphaproteobacteria", "Gammaproteobacteria"],
                    "range": ["#F0CAE3", "#C4DD72", "#F2AE66", "#8DB1D3", "#E07D71", "#BAB8D8", "#FEFBB4", "#A6D2C6"]
                  },
                  "legend": {
                    "title": "Bacteria", "orient": "none", "legendX": 713.5, "legendY": 211, "padding": 0,
                    "titleFontSize": 30, "titleColor": "#111111", "titlePadding": 17,
                    "labelFontSize": 25, "labelColor": "#222222", "labelOffset": 15.7, "rowPadding": -1, "labelLimit": 400,
                    "symbolType": "square", "symbolSize": 1156, "symbolStrokeColor": "black", "symbolStrokeWidth": 1, "symbolOpacity": 1
                  }
                },
                "order": {"field": "Rank", "type": "quantitative"}
              }
            },
            {
              "data": {"values": [{"Treatment": "4 µM Phosphate", "label": "Phosphate"}]},
              "mark": {"type": "text", "fontSize": 28.5, "color": "#222222", "baseline": "middle", "align": "center"},
              "encoding": {"x": {"field": "Treatment", "type": "nominal", "bandPosition": 0.7}, "y": {"datum": -10.02}, "text": {"field": "label"}}
            },
            {
              "data": {"values": [{"Treatment": "10 µM Ammonium", "label": "Ammonium"}]},
              "mark": {"type": "text", "fontSize": 28.5, "color": "#222222", "baseline": "middle", "align": "center"},
              "encoding": {"x": {"field": "Treatment", "type": "nominal", "bandPosition": 1.235}, "y": {"datum": -10.02}, "text": {"field": "label"}}
            },
            {
              "data": {"values": [{"Treatment": "4 µM Phosphate", "label": "Eunicea tourneforti"}]},
              "mark": {"type": "text", "fontSize": 35, "fontStyle": "italic", "color": "#111111", "baseline": "middle", "align": "center"},
              "encoding": {"x": {"field": "Treatment", "type": "nominal", "bandPosition": 1.167}, "y": {"datum": 105.1}, "text": {"field": "label"}}
            }
          ]
        }
      ]
    }
  ]
}
